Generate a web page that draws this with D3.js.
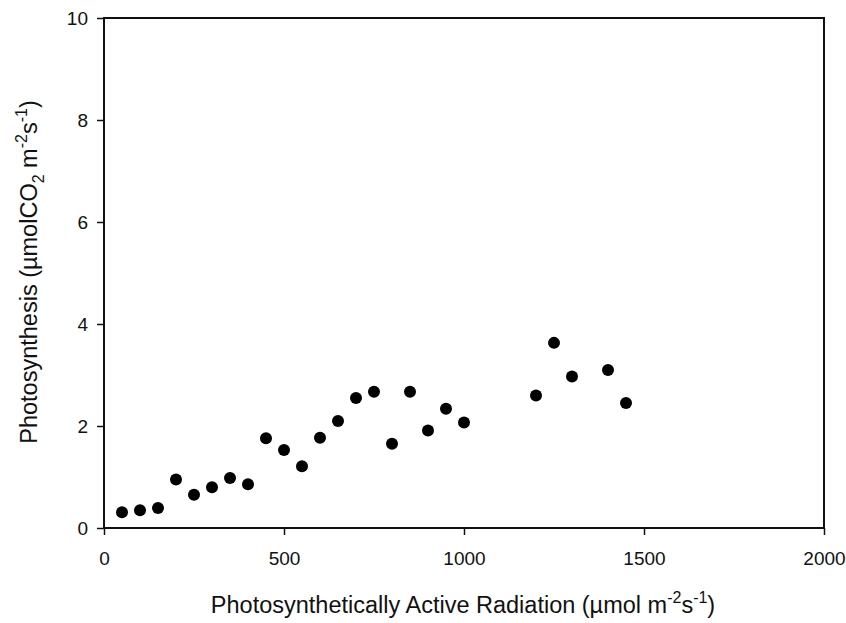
<!DOCTYPE html>
<html><head><meta charset="utf-8">
<script src="https://cdn.jsdelivr.net/npm/d3@7"></script>
<style>body{margin:0;background:#fff}svg{display:block}text{font-family:"Liberation Sans",Arial,sans-serif;fill:#111}</style>
</head><body>
<svg id="c" width="846" height="623"></svg>
<script>
const parValues = [50,100,150,200,250,300,350,400,450,500,550,600,650,700,750,800,850,900,950,1000,1200,1250,1300,1400,1450];
const photoValues = [0.31,0.35,0.39,0.95,0.65,0.80,0.98,0.86,1.76,1.53,1.21,1.77,2.10,2.55,2.67,1.65,2.67,1.91,2.34,2.07,2.60,3.63,2.97,3.10,2.45];
const xTicks = [0,500,1000,1500,2000];
const yTicks = [0,2,4,6,8,10];

const svg = d3.select("#c");
const L = 104, R = 824, T = 18, B = 528;
const x = d3.scaleLinear().domain([0,2000]).range([L,R]);
const y = d3.scaleLinear().domain([0,10]).range([B,T]);

svg.append("rect").attr("x",L).attr("y",T).attr("width",R-L).attr("height",B-T)
  .attr("fill","none").attr("stroke","#111").attr("stroke-width",2);

const xa = svg.append("g").attr("transform",`translate(0,${B})`)
  .call(d3.axisBottom(x).tickValues(xTicks).tickSize(7).tickPadding(17).tickFormat(d3.format("d")));
const ya = svg.append("g").attr("transform",`translate(${L},0)`)
  .call(d3.axisLeft(y).tickValues(yTicks).tickSize(7).tickPadding(9).tickFormat(d3.format("d")));
[xa,ya].forEach(a=>{
  a.select(".domain").remove();
  a.selectAll(".tick line").attr("stroke","#111").attr("stroke-width",1.5);
  a.selectAll("text").attr("font-size",19).attr("font-family","Liberation Sans, Arial, sans-serif").attr("fill","#111");
});

svg.append("g").selectAll("circle").data(parValues).join("circle")
  .attr("cx",(d)=>x(d)).attr("cy",(d,i)=>y(photoValues[i])).attr("r",6).attr("fill","#000");

// x label
const xl = svg.append("text").attr("x",463).attr("y",613).attr("text-anchor","middle").attr("font-size",23.5);
xl.append("tspan").text("Photosynthetically Active Radiation (\u00b5mol m");
xl.append("tspan").attr("dy",-10).attr("font-size",16).text("-2");
xl.append("tspan").attr("dy",10).text("s");
xl.append("tspan").attr("dy",-10).attr("font-size",16).text("-1");
xl.append("tspan").attr("dy",10).text(")");

// y label
const yl = svg.append("text").attr("transform","translate(37,272) rotate(-90)").attr("text-anchor","middle").attr("font-size",23.5);
yl.append("tspan").text("Photosynthesis (\u00b5molCO");
yl.append("tspan").attr("dy",7).attr("font-size",16).text("2");
yl.append("tspan").attr("dy",-7).text(" m");
yl.append("tspan").attr("dy",-10).attr("font-size",16).text("-2");
yl.append("tspan").attr("dy",10).text("s");
yl.append("tspan").attr("dy",-10).attr("font-size",16).text("-1");
yl.append("tspan").attr("dy",10).text(")");
</script>
</body></html>
